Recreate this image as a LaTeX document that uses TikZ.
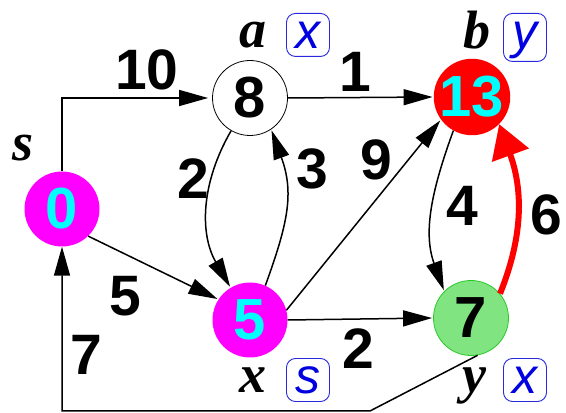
\documentclass[tikz,border=0pt]{standalone}
\usepackage{fontspec}
\setmainfont{Liberation Sans}
\newfontfamily\tnr{Liberation Serif}
\usetikzlibrary{arrows.meta}
\definecolor{mgn}{RGB}{255,0,255}
\definecolor{cyn}{RGB}{0,255,255}
\definecolor{rd}{RGB}{255,0,0}
\definecolor{grf}{RGB}{128,228,128}
\definecolor{grd}{RGB}{40,200,40}
\definecolor{tagblue}{RGB}{0,0,225}
\definecolor{tagline}{RGB}{40,40,220}
\begin{document}
\begin{tikzpicture}[x=1pt,y=1pt,
 vtx/.style={circle,minimum size=75pt,inner sep=0pt,font=\fontsize{58}{58}\selectfont\bfseries},
 lbl/.style={font=\fontsize{57}{57}\selectfont\bfseries,inner sep=0pt},
 nm/.style={font=\tnr\fontsize{54}{54}\selectfont\bfseries\itshape,inner sep=0pt},
 tag/.style={draw=tagline,rounded corners=9pt,text=tagblue,font=\fontsize{50}{50}\selectfont\itshape,inner xsep=9pt,inner ysep=8pt,text height=27pt,text depth=0pt,line width=0.9pt},
 edgeline/.style={line width=1.5pt,-{Triangle[length=29pt,width=16pt]},shorten >=1pt},
]
\useasboundingbox (0,0) rectangle (566,413);
% vertices
\node[vtx,fill=mgn,text=cyn] (s) at (62,204) {0};
\node[vtx,fill=white,draw=black,line width=0.8pt] (a) at (250,315) {8};
\node[vtx,fill=rd,text=cyn] (b) at (472,316) {13};
\node[vtx,fill=mgn,text=cyn] (x) at (250,93) {5};
\node[vtx,fill=grf,draw=grd,line width=0.8pt] (y) at (471,95) {7};
% names
\node[nm] (ns) at (23,265) {s};
\node[nm] (na) at (253,378) {a};
\node[nm] (nb) at (477,383) {b};
\node[nm] (nx) at (253,33) {x};
\node[nm] (ny) at (474,27) {y};
% tags
\node[tag,anchor=north] (ta) at (308,400) {x};
\node[tag,anchor=north,text depth=5pt] (tb) at (525,400) {y};
\node[tag] (tx) at (308,33) {s};
\node[tag] (ty) at (525,33) {x};
% edges
\coordinate (c1) at (370,2);
\draw[edgeline,shorten >=4pt] (s.north) |- (a.west);
\draw[edgeline] (a.east) -- (b.west);
\draw[edgeline] (a.240) to[out=240,in=120] (x.121);
\draw[edgeline] (x.66) to[out=70,in=-70,looseness=1.1] (a.-56);
\draw[edgeline] (x.15) -- (b.216);
\draw[edgeline] (s.-46) -- (x.147);
\draw[edgeline] (x.east) -- (y.west);
\draw[edgeline] (b.241) to[out=250,in=110] (y.135);
\draw[line width=6pt,rd,-{Triangle[length=33pt,width=38pt]}] (y.40) to[out=68,in=-70] (b.-45);
\draw[edgeline,shorten >=0pt] (y.-80) -- (c1) -| (s.south);
% weights
\node[lbl] (w10) at (147,343) {10};
\node[lbl] (w1) at (355,341) {1};
\node[lbl] (w2a) at (193,234) {2};
\node[lbl] (w3) at (312,244) {3};
\node[lbl] (w9) at (376,253) {9};
\node[lbl] (w4) at (462,207) {4};
\node[lbl] (w6) at (546,198) {6};
\node[lbl] (w5) at (125,117) {5};
\node[lbl] (w2b) at (358,64) {2};
\node[lbl] (w7) at (86,58) {7};
\end{tikzpicture}
\end{document}
